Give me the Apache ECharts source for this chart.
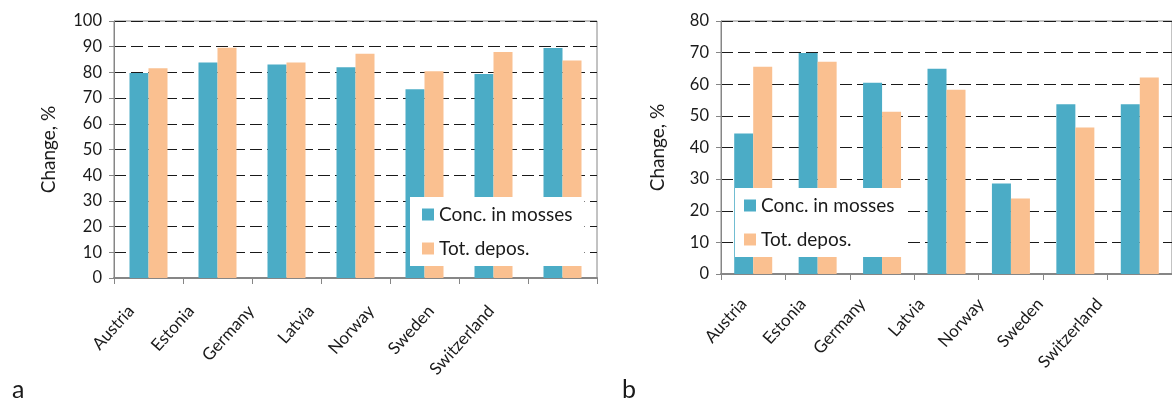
<!DOCTYPE html>
<html>
<head>
<meta charset="utf-8">
<script src="https://cdn.jsdelivr.net/npm/echarts@6/dist/echarts.min.js"></script>
<style>
html,body{margin:0;padding:0;background:#fff;}
#c{width:1172px;height:399px;}
</style>
</head>
<body>
<div id="c"></div>
<script>
const categories = ['Austria', 'Estonia', 'Germany', 'Latvia', 'Norway', 'Sweden', 'Switzerland'];
const seriesNames = ['Conc. in mosses', 'Tot. depos.'];
const concA = [79.8, 83.9, 83.1, 82.0, 73.4, 79.4, 89.5];
const totA  = [81.6, 89.6, 83.9, 87.3, 80.4, 87.9, 84.6];
const concB = [44.4, 69.9, 60.5, 64.9, 28.6, 53.7, 53.7];
const totB  = [65.5, 67.1, 51.3, 58.3, 23.9, 46.3, 62.1];
const yMaxA = 100, yMaxB = 80, yStep = 10;
const panelLabels = ['a', 'b'];

const FONT = 'Lato';
const TEXT = '#1a1a1a';
const AXIS = '#868686';
const TEAL = '#4BACC6';
const PEACH = '#FAC090';

function valueAxis(grid, max, nameGap) {
  return {
    type: 'value', gridIndex: grid, min: 0, max: max, interval: yStep,
    name: 'Change, %', nameLocation: 'middle', nameGap: nameGap,
    nameTextStyle: {fontFamily: FONT, fontSize: 19, color: TEXT},
    axisLine: {show: true, lineStyle: {color: AXIS, width: 1}},
    axisTick: {show: true, length: 5, lineStyle: {color: AXIS}},
    axisLabel: {fontFamily: FONT, fontSize: 16.5, color: TEXT, margin: 12},
    splitLine: {show: true, lineStyle: {color: '#1a1a1a', type: [12, 5], width: 1}}
  };
}
function catAxis(grid) {
  return {
    type: 'category', gridIndex: grid, data: categories, boundaryGap: true,
    axisLine: {show: true, lineStyle: {color: AXIS, width: 2}},
    axisTick: {show: true, length: 6, interval: 0, lineStyle: {color: AXIS}},
    axisLabel: {show: false}, splitLine: {show: false}
  };
}
function labelAxis(grid, margin) {
  return {
    type: 'category', gridIndex: grid, data: categories, boundaryGap: true,
    axisLine: {show: false}, axisTick: {show: false}, splitLine: {show: false},
    axisLabel: {show: true, interval: 0, rotate: 48, margin: margin,
      fontFamily: FONT, fontSize: 17, color: TEXT}
  };
}
function legend(left, top, pad) {
  return {
    left: left, top: top, orient: 'vertical', data: seriesNames,
    backgroundColor: '#fff', padding: pad, itemGap: 15,
    itemWidth: 12, itemHeight: 12, icon: 'rect', selectedMode: false,
    textStyle: {fontFamily: FONT, fontSize: 19, color: TEXT, lineHeight: 18}
  };
}
function bar(name, data, color, axis) {
  return {
    type: 'bar', name: name, data: data, xAxisIndex: axis, yAxisIndex: axis,
    barWidth: 19, barGap: '0%', itemStyle: {color: color}, animation: false, z: 2
  };
}

const chart = echarts.init(document.getElementById('c'), null, {renderer: 'canvas'});
chart.setOption({
  animation: false,
  grid: [
    {left: 114, top: 21, width: 483, height: 257, show: true, borderColor: AXIS, borderWidth: 1},
    {left: 101, top: 21, width: 420, height: 257},
    {left: 721, top: 21, width: 460, height: 253, show: true, borderColor: AXIS, borderWidth: 1},
    {left: 714, top: 21, width: 415, height: 253}
  ],
  xAxis: [catAxis(0), labelAxis(1, 30), catAxis(2), labelAxis(3, 27)],
  yAxis: [
    valueAxis(0, yMaxA, 56),
    {type: 'value', gridIndex: 1, show: false, min: 0, max: yMaxA},
    valueAxis(2, yMaxB, 54),
    {type: 'value', gridIndex: 3, show: false, min: 0, max: yMaxB}
  ],
  legend: [legend(410, 197, [8, 12, 8, 12]), legend(735, 188, [8, 12, 8, 9])],
  series: [
    bar(seriesNames[0], concA, TEAL, 0),
    bar(seriesNames[1], totA, PEACH, 0),
    bar(seriesNames[0], concB, TEAL, 2),
    bar(seriesNames[1], totB, PEACH, 2)
  ],
  graphic: [
    {type: 'text', left: 12, top: 377, style: {text: panelLabels[0], fontFamily: FONT, fontSize: 25, fill: TEXT}},
    {type: 'text', left: 622, top: 377, style: {text: panelLabels[1], fontFamily: FONT, fontSize: 25, fill: TEXT}}
  ]
});
</script>
</body>
</html>
